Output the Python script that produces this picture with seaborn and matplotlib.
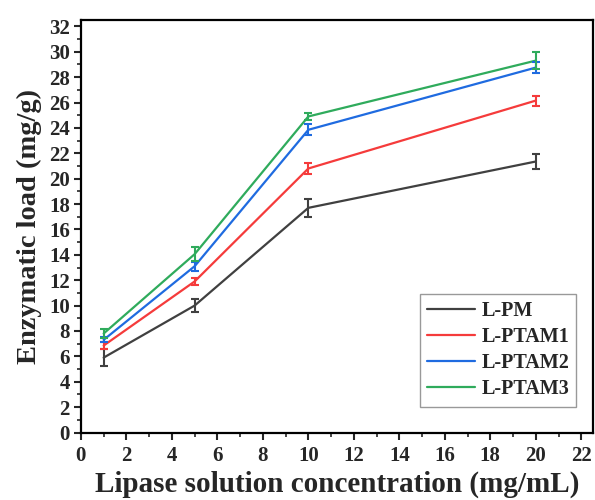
import matplotlib
matplotlib.use("Agg")
import matplotlib.pyplot as plt
from matplotlib.ticker import MultipleLocator
import seaborn as sns
import pandas as pd

# data
conc = [1, 5, 10, 20]
series = ["L-PM", "L-PTAM1", "L-PTAM2", "L-PTAM3"]
load_pm = [5.9, 10.0, 17.7, 21.35]
load_ptam1 = [6.85, 11.9, 20.8, 26.15]
load_ptam2 = [7.3, 13.1, 23.85, 28.75]
load_ptam3 = [7.8, 14.05, 24.9, 29.3]
err_pm = [0.65, 0.5, 0.7, 0.6]
err_ptam1 = [0.3, 0.25, 0.4, 0.4]
err_ptam2 = [0.2, 0.35, 0.45, 0.45]
err_ptam3 = [0.35, 0.55, 0.25, 0.65]
colors = ["#404040", "#f53b3b", "#1f6be0", "#2fab5c"]

sns.set_style("ticks")
plt.rcParams["font.family"] = ["Liberation Serif", "DejaVu Serif"]
plt.rcParams["font.weight"] = "bold"

loads = [load_pm, load_ptam1, load_ptam2, load_ptam3]
errs = [err_pm, err_ptam1, err_ptam2, err_ptam3]
frames = []
for name, vals in zip(series, loads):
    frames.append(pd.DataFrame({"conc": conc, "load": vals, "sample": name}))
df = pd.concat(frames, ignore_index=True)

fig = plt.figure(figsize=(5.95, 5.0), dpi=100)
ax = fig.add_axes([0.136, 0.135, 0.860, 0.825])

sns.lineplot(data=df, x="conc", y="load", hue="sample", hue_order=series,
             palette=colors, linewidth=1.6, ax=ax)

for vals, e, c in zip(loads, errs, colors):
    ax.errorbar(conc, vals, yerr=e, fmt="none", ecolor=c, elinewidth=1.5,
                capsize=3, capthick=1.5)

ax.set_xlim(0, 22.5)
ax.set_ylim(0, 32.5)
ax.xaxis.set_major_locator(MultipleLocator(2))
ax.xaxis.set_minor_locator(MultipleLocator(1))
ax.yaxis.set_major_locator(MultipleLocator(2))
ax.yaxis.set_minor_locator(MultipleLocator(1))
ax.tick_params(which="major", direction="out", length=5, width=1.5,
               labelsize=15, top=False, right=False, pad=3)
ax.tick_params(axis="x", which="major", pad=5)
ax.tick_params(which="minor", direction="out", length=3, width=1.2,
               top=False, right=False)
for lbl in ax.get_xticklabels() + ax.get_yticklabels():
    lbl.set_fontweight("bold")
for sp in ax.spines.values():
    sp.set_visible(True)
    sp.set_linewidth(1.6)
    sp.set_color("black")

ax.set_xlabel("Lipase solution concentration (mg/mL)", fontsize=21,
              fontweight="bold", labelpad=3)
ax.set_ylabel("Enzymatic load (mg/g)", fontsize=20.5, fontweight="bold",
              labelpad=5)

leg = ax.legend(loc="lower right", bbox_to_anchor=(0.968, 0.063),
                prop={"weight": "bold", "size": 14.5}, fancybox=False,
                framealpha=1, edgecolor="#999999", handlelength=2.4,
                borderpad=0.35, labelspacing=0.3, handletextpad=0.3,
                borderaxespad=0)
leg.get_frame().set_linewidth(1.0)

fig.savefig("out.png", dpi=100)
